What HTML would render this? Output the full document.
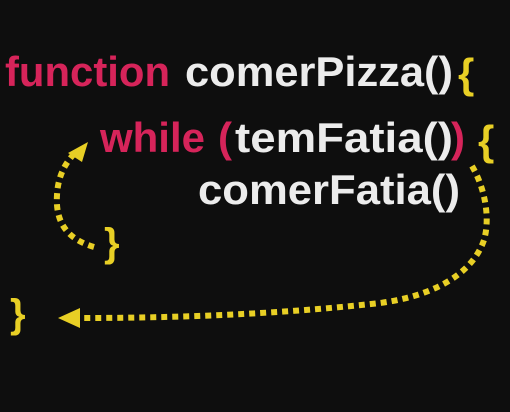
<!DOCTYPE html>
<html><head><style>
html,body{margin:0;padding:0;background:#0e0e0e;}
svg{display:block}
text{font-family:"Liberation Sans",sans-serif;font-weight:bold;}
</style></head><body>
<svg width="510" height="412" viewBox="0 0 510 412" xmlns="http://www.w3.org/2000/svg">
<rect width="510" height="412" fill="#0e0e0e"/>
<text x="5" y="86" font-size="42" textLength="165" lengthAdjust="spacingAndGlyphs" fill="#d6245a">function</text>
<text x="185" y="86" font-size="42" textLength="268" lengthAdjust="spacingAndGlyphs" fill="#ececec">comerPizza()</text>
<text x="458" y="88" font-size="42" fill="#e8cf25">{</text>
<text x="100" y="152" font-size="42" textLength="105" lengthAdjust="spacingAndGlyphs" fill="#d6245a">while</text>
<text x="218" y="152" font-size="42" fill="#d6245a">(</text>
<text x="235" y="152" font-size="42" textLength="218" lengthAdjust="spacingAndGlyphs" fill="#ececec">temFatia()</text>
<text x="451" y="152" font-size="42" fill="#d6245a">)</text>
<text x="478" y="155" font-size="42" fill="#e8cf25">{</text>
<text x="198" y="204" font-size="42" textLength="262" lengthAdjust="spacingAndGlyphs" fill="#ececec">comerFatia()</text>
<text x="104" y="256" font-size="40" fill="#e8cf25">}</text>
<text x="10" y="327" font-size="40" fill="#e8cf25">}</text>
<g fill="none" stroke="#e8cf25" stroke-width="6" stroke-dasharray="6 5">
<path d="M94 247 C70 240 55 225 57 195 C58 175 66 163 73 155"/>
<path d="M472 166 C486 190 490 220 484 240 C474 270 440 295 380 303 C300 312 200 318 82 318"/>
</g>
<polygon points="88,142 68,153 82,162" fill="#e8cf25"/>
<polygon points="58,318 80,308 80,328" fill="#e8cf25"/>
</svg>
</body></html>
